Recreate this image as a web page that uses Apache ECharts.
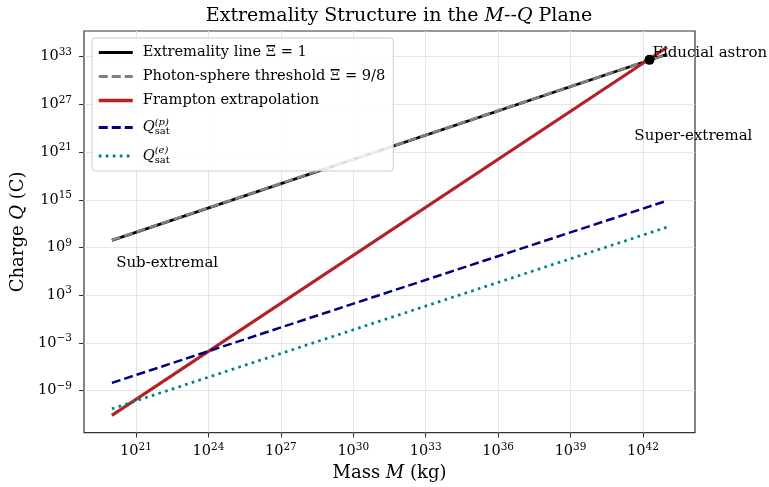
<!DOCTYPE html>
<html>
<head>
<meta charset="utf-8">
<script src="https://cdn.jsdelivr.net/npm/echarts@6/dist/echarts.min.js"></script>
<style>
  html, body { margin: 0; padding: 0; background: #fff; }
  #chart { width: 769px; height: 487px; }
</style>
</head>
<body>
<div id="chart"></div>
<script>
// Mass grid (kg) shared by all curves
const massKg = [1e20, 1e43];
// Charge curves (C)
const extremalQ = [7.9e9, 2.0e33];
const photonSphereQ = [8.4e9, 2.1e33];
const framptonQ = [7.6e-13, 1.5e34];
const qSatProton = [9.3e-9, 7.6e14];
const qSatElectron = [5.2e-12, 3.6e11];
// Fiducial object [mass, charge]
const fiducialPoint = [1.86e42, 3.9e32];
// Region notes anchored in data space
const regionNotes = [
  { text: 'Sub-extremal', mass: 1.5e20, charge: 1e7 },
  { text: 'Super-extremal', mass: 4.4e41, charge: 1e23 }
];
// Tick values
const xTickValues = [1e21, 1e24, 1e27, 1e30, 1e33, 1e36, 1e39, 1e42];
const yTickValues = [1e-9, 1e-3, 1e3, 1e9, 1e15, 1e21, 1e27, 1e33];

const FONT = '"DejaVu Serif", serif';
const INK = '#000000';

function powLabel(v) {
  const e = Math.round(Math.log10(v));
  return '{b|10}{s|' + (e < 0 ? '\u2212' + (-e) : e) + '}';
}
const tickRich = {
  b: { fontFamily: FONT, fontSize: 14.5, color: INK },
  s: { fontFamily: FONT, fontSize: 10.5, color: INK, padding: [0, 0, 9, 0] }
};

const legendNames = [
  'Extremality line \u039E = 1',
  'Photon-sphere threshold \u039E = 9/8',
  'Frampton extrapolation',
  'Q_sat^(p)',
  'Q_sat^(e)'
];
const legendWidths = [3, 3, 3.5, 3, 3];

function legendText(name) {
  const m = name.match(/^Q_sat\^\((\w)\)$/);
  if (m) return '{q|Q}{sp|(' + m[1] + ')}{sb|sat}';
  return '{n|' + name + '}';
}

function pairs(ys) { return massKg.map((m, i) => [m, ys[i]]); }

function lineSeries(name, ys, color, width, type) {
  return {
    name: name, type: 'line', data: pairs(ys),
    symbol: 'none', showSymbol: false, silent: true,
    lineStyle: { color: color, width: width, type: type, cap: 'butt' },
    itemStyle: { color: color },
    emphasis: { disabled: true }
  };
}

const labelRich = {
  n: { fontFamily: FONT, fontSize: 18, color: INK },
  i: { fontFamily: FONT, fontSize: 18, color: INK, fontStyle: 'italic' }
};

const chart = echarts.init(document.getElementById('chart'), null, { renderer: 'canvas' });

chart.setOption({
  animation: false,
  backgroundColor: '#fff',
  title: {
    text: '{n|Extremality Structure in the }{i|M}{n|--}{i|Q}{n| Plane}',
    left: 394, top: 2, textAlign: 'center',
    textStyle: {
      fontWeight: 'normal',
      rich: {
        n: { fontFamily: FONT, fontSize: 19, color: INK, fontWeight: 'normal' },
        i: { fontFamily: FONT, fontSize: 19, color: INK, fontStyle: 'italic', fontWeight: 'normal' }
      }
    }
  },
  grid: {
    left: 84, top: 31, width: 611, height: 404,
    show: true, borderColor: '#333', borderWidth: 1.2, backgroundColor: 'transparent'
  },
  legend: {
    data: legendNames.map((n, i) => ({ name: n, lineStyle: { width: legendWidths[i] } })),
    orient: 'vertical',
    left: 92, top: 38,
    itemWidth: 34, itemHeight: 14, itemGap: 9,
    padding: [7, 8, 6, 5],
    backgroundColor: 'rgba(255,255,255,0.85)',
    borderColor: '#cccccc', borderWidth: 1, borderRadius: 3,
    selectedMode: false,
    itemStyle: { opacity: 0, borderWidth: 0 },
    formatter: legendText,
    textStyle: {
      padding: [0, 0, 0, 5],
      rich: {
        n: { fontFamily: FONT, fontSize: 14.6, color: INK },
        q: { fontFamily: FONT, fontSize: 14.6, color: INK, fontStyle: 'italic' },
        sp: { fontFamily: FONT, fontSize: 10, color: INK, fontStyle: 'italic', width: 0, padding: [0, 0, 11, 0] },
        sb: { fontFamily: FONT, fontSize: 10, color: INK, padding: [8, 0, 0, 0] }
      }
    }
  },
  xAxis: {
    type: 'log', logBase: 10,
    min: Math.pow(10, 18.845), max: Math.pow(10, 44.155),
    name: '{n|Mass }{i|M}{n| (kg)}', nameLocation: 'middle', nameGap: 26,
    nameTextStyle: { rich: labelRich },
    axisLine: { show: false },
    axisTick: { show: true, customValues: xTickValues, length: 5, lineStyle: { color: '#333', width: 1 } },
    axisLabel: { customValues: xTickValues, formatter: powLabel, rich: tickRich, margin: 9 },
    splitLine: { show: true, lineStyle: { color: '#e6e6e6', width: 1 } },
    minorTick: { show: false }, minorSplitLine: { show: false }
  },
  yAxis: {
    type: 'log', logBase: 10,
    min: Math.pow(10, -14.28), max: Math.pow(10, 36.22),
    name: '{n|Charge }{i|Q}{n| (C)}', nameLocation: 'middle', nameGap: 55, nameRotate: 90,
    nameTextStyle: { rich: labelRich },
    axisLine: { show: false },
    axisTick: { show: true, customValues: yTickValues, length: 5, lineStyle: { color: '#333', width: 1 } },
    axisLabel: { customValues: yTickValues, formatter: powLabel, rich: tickRich, margin: 12 },
    splitLine: { show: true, lineStyle: { color: '#e6e6e6', width: 1 } },
    minorTick: { show: false }, minorSplitLine: { show: false }
  },
  series: [
    lineSeries(legendNames[0], extremalQ, '#000000', 2.8, 'solid'),
    lineSeries(legendNames[1], photonSphereQ, '#808080', 2.8, [9, 4]),
    lineSeries(legendNames[2], framptonQ, '#b22222', 3.1, 'solid'),
    lineSeries(legendNames[3], qSatProton, '#000080', 2.5, [9, 4]),
    lineSeries(legendNames[4], qSatElectron, '#008080', 2.7, [2.7, 4.3]),
    {
      name: 'fiducial', type: 'scatter', silent: true,
      data: [fiducialPoint],
      symbol: 'circle', symbolSize: 10,
      itemStyle: { color: '#000', opacity: 1 },
      label: {
        show: true, position: 'right', distance: -2, offset: [0, -7],
        formatter: 'Fiducial astron',
        fontFamily: FONT, fontSize: 15, color: INK, opacity: 1
      },
      z: 5
    },
    {
      name: 'notes', type: 'scatter', silent: true,
      data: regionNotes.map(n => ({ value: [n.mass, n.charge], note: n.text })),
      symbolSize: 0,
      itemStyle: { opacity: 1 },
      label: {
        show: true, position: 'right', distance: 0,
        formatter: p => p.data.note,
        fontFamily: FONT, fontSize: 15, color: INK, opacity: 1
      },
      z: 4
    }
  ]
});
</script>
</body>
</html>
